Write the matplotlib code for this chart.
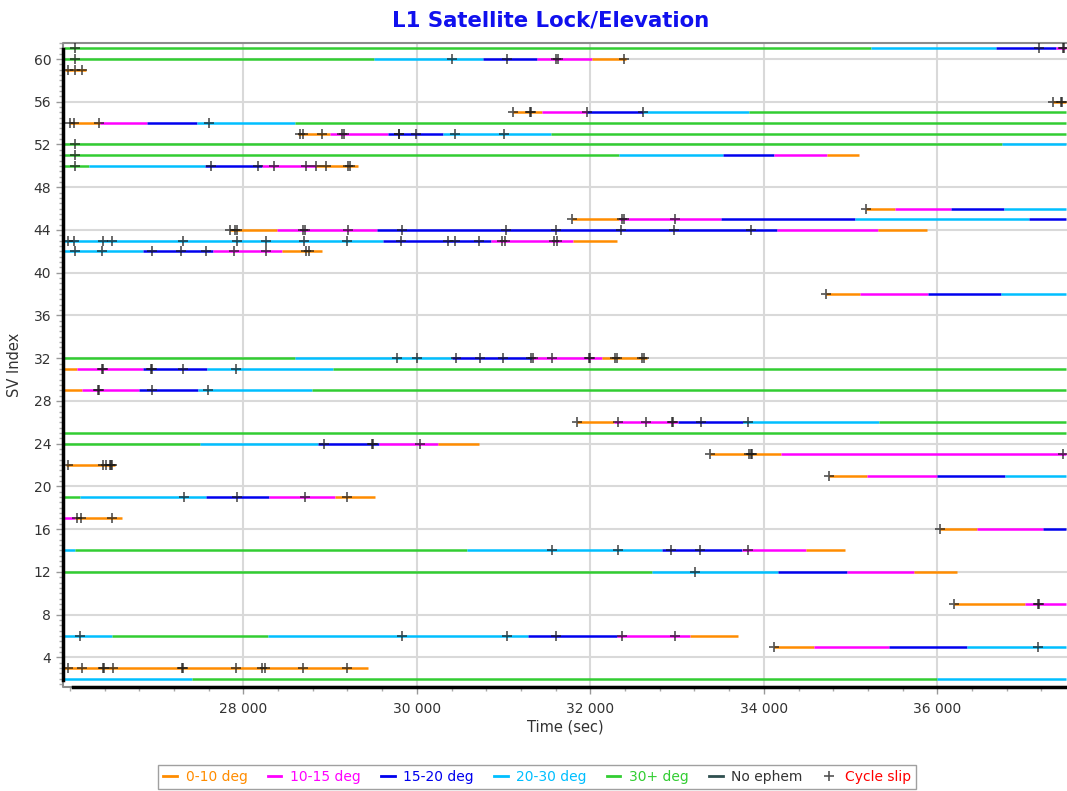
import matplotlib
matplotlib.use("Agg")
import matplotlib.pyplot as plt
from matplotlib.lines import Line2D
from matplotlib.ticker import MultipleLocator, FuncFormatter

# ---------------- data ----------------
class_labels = ["0-10 deg", "10-15 deg", "15-20 deg", "20-30 deg", "30+ deg"]
class_colors = ["#FF8C00", "#FF00FF", "#0000EE", "#00BFFF", "#32CD32"]
noephem_label = "No ephem"
noephem_color = "#2F4F4F"
slip_label = "Cycle slip"

sv_ids = [61, 60, 59, 56, 55, 54, 53, 52, 51, 50, 46, 45, 44, 43, 42, 38, 32, 31,
          29, 26, 25, 24, 23, 22, 21, 19, 17, 16, 14, 12, 9, 6, 5, 3, 2]

seg_breaks = [
    [25930, 35240, 36680, 37370, 37480],
    [25930, 29510, 30760, 31390, 32020, 32410],
    [25945, 26190],
    [37330, 37480],
    [31110, 31440, 31960, 32610, 33830, 37480],
    [26000, 26350, 26890, 27470, 28600, 37480],
    [28630, 29000, 29670, 30300, 31550, 37480],
    [25930, 36750, 37480],
    [25930, 32330, 33530, 34120, 34730, 35100],
    [25930, 26220, 27560, 28220, 28840, 29320],
    [35180, 35510, 36160, 36770, 37480],
    [31790, 32330, 33510, 35050, 37060, 37480],
    [27850, 28390, 29540, 34150, 35320, 35880],
    [25930, 29610, 30860, 31800, 32310],
    [25930, 26840, 27650, 28450, 28910],
    [34720, 35110, 35890, 36730, 37480],
    [25930, 28600, 30400, 31330, 32130, 32650],
    [25930, 26080, 26840, 27580, 29030, 37480],
    [25930, 26140, 26800, 27480, 28790, 37480],
    [31850, 32270, 33010, 33760, 35330, 37480],
    [25930, 37480],
    [25930, 27500, 28860, 29560, 30240, 30720],
    [33380, 34200, 37480],
    [25950, 26520],
    [34750, 35190, 36000, 36780, 37480],
    [25930, 26120, 27570, 28300, 29060, 29520],
    [25930, 26060, 26600],
    [36030, 36460, 37220, 37480],
    [25930, 26060, 30580, 32830, 33750, 34490, 34940],
    [25930, 32710, 34160, 34960, 35730, 36230],
    [36190, 37010, 37480],
    [25930, 26490, 28280, 31280, 32310, 33150, 33700],
    [34120, 34580, 35440, 36340, 37480],
    [25930, 29440],
    [25930, 27410, 36000, 37480],
]

seg_classes = [
    [4, 3, 2, 1],
    [4, 3, 2, 1, 0],
    [0],
    [0],
    [0, 1, 2, 3, 4],
    [0, 1, 2, 3, 4],
    [0, 1, 2, 3, 4],
    [4, 3],
    [4, 3, 2, 1, 0],
    [4, 3, 2, 1, 0],
    [0, 1, 2, 3],
    [0, 1, 2, 3, 2],
    [0, 1, 2, 1, 0],
    [3, 2, 1, 0],
    [3, 2, 1, 0],
    [0, 1, 2, 3],
    [4, 3, 2, 1, 0],
    [0, 1, 2, 3, 4],
    [0, 1, 2, 3, 4],
    [0, 1, 2, 3, 4],
    [4],
    [4, 3, 2, 1, 0],
    [0, 1],
    [0],
    [0, 1, 2, 3],
    [4, 3, 2, 1, 0],
    [1, 0],
    [0, 1, 2],
    [3, 4, 3, 2, 1, 0],
    [4, 3, 2, 1, 0],
    [0, 1],
    [3, 4, 3, 2, 1, 0],
    [0, 1, 2, 3],
    [0],
    [3, 4, 3],
]

slip_times = [
    [26060, 37170, 37445, 37455],
    [26060, 30400, 31040, 31610, 31625, 32390],
    [25980, 26060, 26140],
    [37330, 37430, 37440],
    [31110, 31300, 31320, 31960, 32610],
    [26000, 26050, 26340, 27600],
    [28650, 28690, 28910, 29140, 29160, 29790, 29800, 29990, 30440, 31000],
    [26060],
    [26060],
    [26060, 27630, 28170, 28350, 28720, 28840, 28950, 29210, 29225],
    [35180],
    [31790, 32370, 32385, 32980],
    [27850, 27900, 27930, 28690, 28705, 29210, 29830, 31030, 31600, 32350, 32960, 33850],
    [25980, 26050, 26380, 26490, 27300, 27930, 28260, 28700, 29200, 29820, 30360,
     30440, 30720, 30980, 31020, 31580, 31620],
    [26060, 26370, 26950, 27280, 27570, 27890, 28260, 28720, 28760],
    [34720],
    [29770, 30000, 30450, 30730, 30990, 31320, 31335, 31560, 31980, 31995, 32290,
     32310, 32600, 32620],
    [26370, 26385, 26930, 26945, 27300, 27910],
    [26320, 26335, 26950, 27590],
    [31850, 32320, 32640, 32940, 32955, 33280, 33820],
    [],
    [28930, 29480, 29495, 30040],
    [33380, 33830, 33850, 33865, 37450],
    [25980, 26380, 26420, 26460, 26475, 26490],
    [34750],
    [27320, 27930, 28710, 29200],
    [26080, 26130, 26490],
    [36030],
    [31560, 32320, 32930, 33260, 33820],
    [33210],
    [36190, 37160, 37175],
    [26120, 29830, 31040, 31610, 32365, 32980],
    [34120, 37160],
    [25980, 26140, 26380, 26395, 26500, 27290, 27305, 27910, 28220, 28250, 28690, 29200],
    [],
]

x_major = [28000, 30000, 32000, 34000, 36000]
y_major = list(range(4, 61, 4))

# ---------------- figure ----------------
plt.rcParams['font.family'] = ['DejaVu Sans']
fig = plt.figure(figsize=(10.67, 7.91), dpi=100)
ax = fig.add_axes([63 / 1067, 1 - 687 / 791, 1 - 63 / 1067, (687 - 43) / 791])

ax.set_xlim(25921, 37495)
ax.set_ylim(1.22, 61.5)

# grid
ax.set_xticks(x_major)
ax.set_yticks(y_major)
ax.xaxis.set_minor_locator(MultipleLocator(400))
ax.yaxis.set_minor_locator(MultipleLocator(0.5))
ax.grid(True, which='major', color='#d9d9d9', lw=1.5, zorder=0)
ax.set_axisbelow(True)

# segments
for sv, br, cl in zip(sv_ids, seg_breaks, seg_classes):
    for i, c in enumerate(cl):
        ax.hlines(sv, br[i], br[i + 1], colors=class_colors[c], lw=1.8, zorder=2)

# cycle slips
for sv, ts in zip(sv_ids, slip_times):
    if ts:
        ax.plot(ts, [sv] * len(ts), ls='none', marker='+', ms=7, mew=1.3,
                color='#1a1a1a', alpha=0.7, zorder=3)

# frame / spines (grey outline on top, left and bottom; black inner spines)
for s in ['top', 'right']:
    ax.spines[s].set_visible(False)
ax.add_line(Line2D([1, 0, 0, 1], [1, 1, 0, 0], transform=ax.transAxes,
                   color='#8c8c8c', lw=1.5, clip_on=False, zorder=1))
ax.spines['left'].set_color('black')
ax.spines['left'].set_linewidth(2.5)
ax.spines['left'].set_bounds(1.9, 60.9)
ax.spines['bottom'].set_color('black')
ax.spines['bottom'].set_linewidth(2.5)
ax.spines['bottom'].set_bounds(26040, 37495)
for sp in ax.spines.values():
    sp.set_zorder(4)

ax.tick_params(axis='both', which='major', direction='out', length=5, width=1,
               color='#999999', labelsize=10, labelcolor='#333333')
ax.tick_params(axis='both', which='minor', direction='out', length=3, width=1,
               color='#aaaaaa')
ax.tick_params(axis='x', pad=6)
ax.xaxis.set_major_formatter(FuncFormatter(lambda v, p: f"{int(v):,}".replace(",", " ")))

ax.set_xlabel("Time (sec)", fontsize=10.5, color='#333333', labelpad=2)
ax.set_ylabel("SV Index", fontsize=10.5, color='#333333', labelpad=8)

fig.text(551 / 1067, 1 - 20 / 791, "L1 Satellite Lock/Elevation", ha='center', va='center',
         fontsize=15.3, fontweight='bold', color='#1010EE')

# legend
handles = [Line2D([], [], color=c, lw=2) for c in class_colors]
handles.append(Line2D([], [], color=noephem_color, lw=2))
handles.append(Line2D([], [], ls='none', marker='+', ms=7, mew=1.2, color='#555555'))
labels = class_labels + [noephem_label, slip_label]
leg = fig.legend(handles, labels, loc='center', bbox_to_anchor=(537 / 1067, 1 - 777 / 791),
                 ncol=7, fontsize=10, frameon=True, fancybox=False, handlelength=1.0,
                 handletextpad=0.6, columnspacing=1.45, borderpad=0.35)
leg.get_frame().set_edgecolor('#888888')
leg.get_frame().set_linewidth(1.0)
text_colors = class_colors + ['#333333', '#FF0000']
for t, c in zip(leg.get_texts(), text_colors):
    t.set_color(c)

fig.savefig("out.png", dpi=100)
